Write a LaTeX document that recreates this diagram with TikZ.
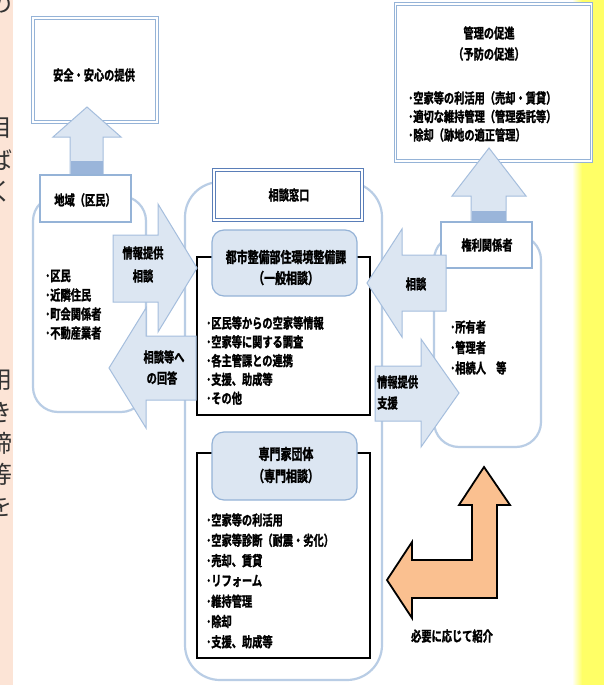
\documentclass[tikz,border=0pt]{standalone}
\usepackage{fontspec}
\setmainfont{Noto Sans CJK JP Bold}[FakeStretch=0.73, FakeBold=1.6]
\newfontfamily\sidefont{Noto Sans CJK JP}
\definecolor{peach}{HTML}{FCE4D6}
\definecolor{yel}{HTML}{FFFF66}
\definecolor{lb}{HTML}{DCE6F2}
\definecolor{lbd}{HTML}{A5BEDD}
\definecolor{band}{HTML}{9AB5DA}
\definecolor{contc}{HTML}{B9CDE5}
\definecolor{boxb}{HTML}{95B3D7}
\definecolor{winb}{HTML}{5A7EB8}
\definecolor{orng}{HTML}{FAC090}
\begin{document}
\begin{tikzpicture}[x=1pt,y=-1pt,
  t/.style={inner sep=0pt, font=\fontsize{14}{16}\selectfont},
  th/.style={inner sep=0pt, font=\fontsize{15}{17}\selectfont},
  sidech/.style={inner sep=0pt, font=\sidefont\fontsize{24}{24}\selectfont, text=black!80},
  cont/.style={draw=contc, line width=2.2pt},
  barrow/.style={draw=lbd, fill=lb, line width=1pt, line join=miter},
  dbl/.style={draw=boxb, double=white, double distance=1.6pt, line width=0.9pt, fill=white, inner sep=0pt},
  winbox/.style={draw=winb, double=white, double distance=1.4pt, line width=1pt, fill=white, inner sep=0pt},
  sbox/.style={draw=boxb, line width=1.5pt, fill=white, inner sep=0pt},
  blk/.style={draw=black, line width=1.6pt, fill=white},
  hdr/.style={draw=boxb, fill=lb, line width=1.2pt, rounded corners=12pt, inner sep=0pt},
  orarrow/.style={draw=black, fill=orng, line width=1.8pt, line join=miter},
  ]
\useasboundingbox (0,0) rectangle (604,685);
\fill[white] (0,0) rectangle (604,685);
% side strips
\fill[peach] (0,0) rectangle (13,685);
\begin{scope}
  \clip (0,0) rectangle (13,685);
  \foreach \c/\y [count=\i] in {の/4, 目/128, ば/160, く/192, 用/380, き/412, 締/443, 等/474, を/506}
    \node[sidech] (s\i) at (1,\y) {\c};
\end{scope}
\shade[left color=white, right color=yel] (572,0) rectangle (582,685);
\fill[yel] (582,0) rectangle (604,685);

% containers
\draw[cont, rounded corners=25pt] (33,196) rectangle (146,412);
\draw[cont, rounded corners=35pt] (185,182) rectangle (382,680);
\draw[cont, rounded corners=25pt] (434,235) rectangle (541,447);

% top boxes
\node[dbl, minimum width=124pt, minimum height=104pt] (anzen) at (95,70) {};
\node[t] (anzenT) at (94,75) {安全・安心の提供};
\node[dbl, minimum width=196pt, minimum height=157pt] (kanri) at (493.5,82.5) {};
\node[t] (kanriT1) at (489,33) {管理の促進};
\node[t] (kanriT2) at (489,54) {（予防の促進）};
\foreach \s [count=\i] in {･空家等の利活用（売却・賃貸）, ･適切な維持管理（管理委託等）, ･除却（跡地の適正管理）}
  \node[t, anchor=west] (K\i) at (408, {98+(\i-1)*18.5}) {\s};

% up arrows
\path[barrow] (87,107) -- (121,137) -- (103,137) -- (103,176) -- (70,176) -- (70,137) -- (53,137) -- cycle;
\fill[band] (70.5,161) rectangle (102.5,176);
\path[barrow] (489,148) -- (526,196) -- (506,196) -- (506,223) -- (471,223) -- (471,196) -- (452,196) -- cycle;
\fill[band] (471.5,211) rectangle (505.5,223);

% left group
\node[sbox, minimum width=91pt, minimum height=47pt] (chiiki) at (85.5,198.5) {};
\node[t] (chiikiT) at (85,200) {地域（区民）};
\foreach \s [count=\i] in {･区民, ･近隣住民, ･町会関係者, ･不動産業者}
  \node[t, anchor=west] (L\i) at (45, {276+(\i-1)*19}) {\s};

% right group
\node[sbox, minimum width=91pt, minimum height=46pt] (kenri) at (486.5,245) {};
\node[t] (kenriT) at (487,245) {権利関係者};
\foreach \s [count=\i] in {･所有者, ･管理者, ･相続人　等}
  \node[t, anchor=west] (R\i) at (450, {327+(\i-1)*20.5}) {\s};

% centre
\draw[blk] (197,257) rectangle (370,415);
\node[hdr, minimum width=145pt, minimum height=66pt] (h1) at (284.5,263) {};
\node[th] (h1a) at (286,257) {都市整備部住環境整備課};
\node[th] (h1b) at (286,278) {（一般相談）};
\foreach \s [count=\i] in {･区民等からの空家等情報, ･空家等に関する調査, ･各主管課との連携, ･支援、助成等, ･その他}
  \node[t, anchor=west] (A\i) at (206, {323+(\i-1)*18.8}) {\s};

\draw[blk] (197,453) rectangle (370,658);
\node[hdr, minimum width=145pt, minimum height=68pt] (h2) at (284.5,466) {};
\node[th] (h2a) at (286,454) {専門家団体};
\node[th] (h2b) at (286,476) {（専門相談）};
\foreach \s [count=\i] in {･空家等の利活用, ･空家等診断（耐震・劣化）, ･売却、賃貸, ･リフォーム, ･維持管理, ･除却, ･支援、助成等}
  \node[t, anchor=west] (B\i) at (206, {520+(\i-1)*20.3}) {\s};

\node[winbox, minimum width=148pt, minimum height=50pt] (madoguchi) at (288,195) {};
\node[t] (madoT) at (289,195) {相談窓口};

% horizontal block arrows
\path[barrow] (113,235) -- (158,235) -- (158,204) -- (197,268) -- (158,332) -- (158,302) -- (113,302) -- cycle;
\node[t] (aT1) at (143,253) {情報提供};
\node[t] (aT2) at (143,276) {相談};
\path[barrow] (196,336) -- (146,336) -- (146,308) -- (109,368) -- (146,428) -- (146,400) -- (196,400) -- cycle;
\node[t] (bT1) at (164,357) {相談等へ};
\node[t] (bT2) at (162,378) {の回答};
\path[barrow] (446,255) -- (402,255) -- (402,229) -- (367,283) -- (402,337) -- (402,311) -- (446,311) -- cycle;
\node[t] (cT) at (416,284) {相談};
\path[barrow] (375,366) -- (421,366) -- (421,339) -- (459,393) -- (421,447) -- (421,421) -- (375,421) -- cycle;
\node[t, anchor=west] (dT1) at (377,382) {情報提供};
\node[t, anchor=west] (dT2) at (377,403) {支援};

% orange L arrow
\path[orarrow] (484,467) -- (510,505) -- (497,505) -- (497,598) -- (412,598) -- (412,618) -- (387,580) -- (412,542) -- (412,560) -- (472,560) -- (472,505) -- (459,505) -- cycle;
\node[t] (eT) at (452,636) {必要に応じて紹介};
\end{tikzpicture}
\end{document}
